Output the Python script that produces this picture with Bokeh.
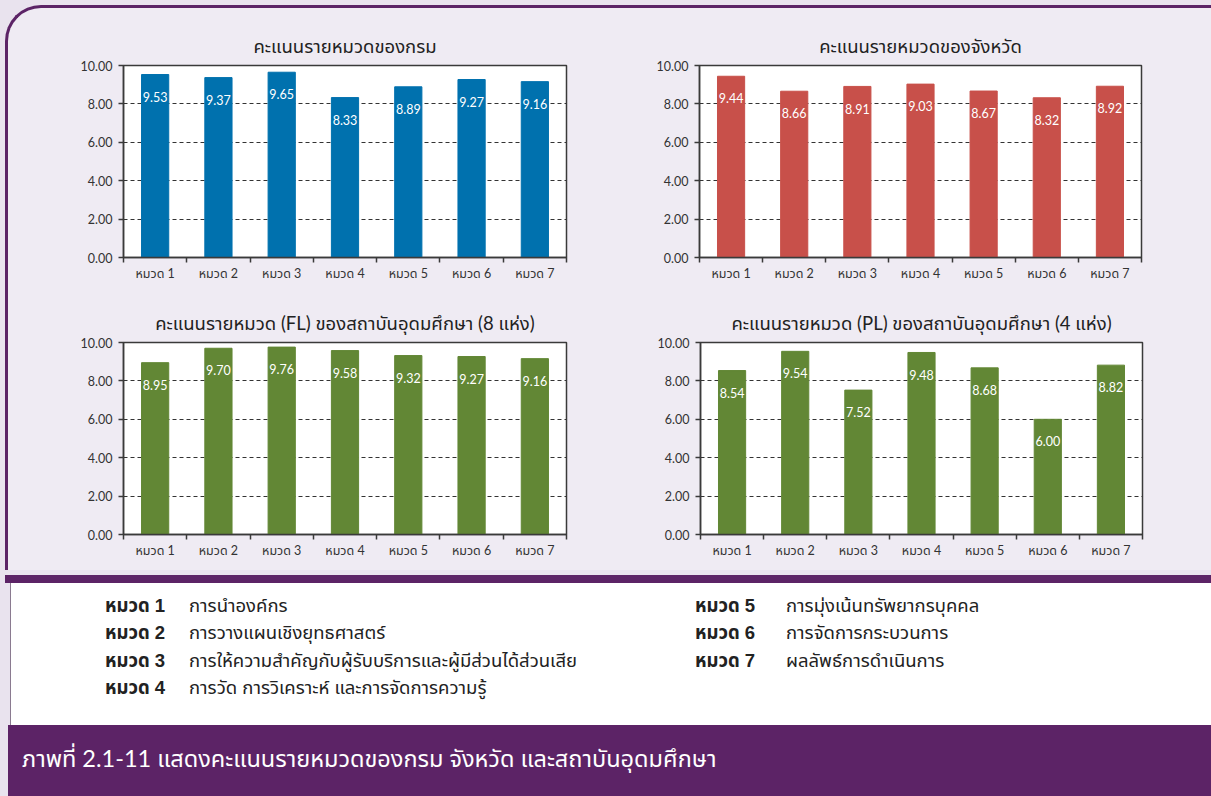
from bokeh.plotting import figure
from bokeh.models import Div, FixedTicker, NumeralTickFormatter, ColumnDataSource, Range1d
from bokeh.core.properties import value
from bokeh.layouts import column, row
from bokeh.embed import file_html
from bokeh.resources import INLINE

# ---------------- data ----------------
categories = ["หมวด 1", "หมวด 2", "หมวด 3", "หมวด 4", "หมวด 5", "หมวด 6", "หมวด 7"]
dept_scores = [9.53, 9.37, 9.65, 8.33, 8.89, 9.27, 9.16]
province_scores = [9.44, 8.66, 8.91, 9.03, 8.67, 8.32, 8.92]
fl_scores = [8.95, 9.70, 9.76, 9.58, 9.32, 9.27, 9.16]
pl_scores = [8.54, 9.54, 7.52, 9.48, 8.68, 6.00, 8.82]
chart_titles = [
    "คะแนนรายหมวดของกรม",
    "คะแนนรายหมวดของจังหวัด",
    "คะแนนรายหมวด (FL) ของสถาบันอุดมศึกษา (8 แห่ง)",
    "คะแนนรายหมวด (PL) ของสถาบันอุดมศึกษา (4 แห่ง)",
]
y_ticks = [0, 2, 4, 6, 8, 10]
grid_ticks = [2, 4, 6, 8]
legend_left = [
    ("หมวด 1", "การนำองค์กร"),
    ("หมวด 2", "การวางแผนเชิงยุทธศาสตร์"),
    ("หมวด 3", "การให้ความสำคัญกับผู้รับบริการและผู้มีส่วนได้ส่วนเสีย"),
    ("หมวด 4", "การวัด การวิเคราะห์ และการจัดการความรู้"),
]
legend_right = [
    ("หมวด 5", "การมุ่งเน้นทรัพยากรบุคคล"),
    ("หมวด 6", "การจัดการกระบวนการ"),
    ("หมวด 7", "ผลลัพธ์การดำเนินการ"),
]
caption = "ภาพที่ 2.1-11 แสดงคะแนนรายหมวดของกรม จังหวัด และสถาบันอุดมศึกษา"

BLUE = "#0071AE"
RED = "#C8504A"
GREEN = "#628735"
PURPLE = "#5C2366"
LAVENDER_IN = "#EFEBF3"
LAVENDER_OUT = "#E9E3EE"
AXIS = "#3A3A3A"
CHART_FONT = "Lato, 'Noto Sans Thai', 'Noto Sans', sans-serif"
LEGEND_FONT = "'Liberation Sans', 'Noto Sans Thai', 'DejaVu Sans', sans-serif"


def make_chart(title, values, color, width, height, bl, br, bt, bb):
    xs = list(range(1, len(categories) + 1))
    src = ColumnDataSource(dict(
        x=xs,
        top=values,
        label=[f"{v:.2f}" for v in values],
        ly=[v - 1.15 for v in values],
    ))
    p = figure(width=width, height=height, x_range=Range1d(0.5, len(categories) + 0.5),
               y_range=Range1d(0, 10), output_backend="svg", toolbar_location=None,
               min_border_left=bl, min_border_right=br, min_border_top=bt, min_border_bottom=bb)
    p.vbar(x="x", top="top", width=0.43, color=color, source=src)
    p.text(x="x", y="ly", text="label", source=src, text_align="center",
           text_baseline="middle", text_color="white", text_font_size="12.5px",
           text_font=value(CHART_FONT))

    p.title.text = title
    p.title.align = "center"
    p.title.text_font_size = "18.5px"
    p.title.text_font_style = "normal"
    p.title.text_color = "#222222"
    p.title.text_font = CHART_FONT
    p.title.standoff = 18

    p.background_fill_color = "white"
    p.border_fill_alpha = 0
    p.outline_line_color = AXIS
    p.outline_line_width = 1.5

    p.xgrid.visible = False
    p.ygrid.ticker = FixedTicker(ticks=grid_ticks)
    p.ygrid.grid_line_color = "#333333"
    p.ygrid.grid_line_dash = "4 3"
    p.ygrid.grid_line_width = 1

    xa = p.xaxis[0]
    xa.ticker = FixedTicker(ticks=xs, minor_ticks=[i + 0.5 for i in range(len(categories) + 1)])
    xa.major_label_overrides = {x: c for x, c in zip(xs, categories)}
    xa.major_tick_out = 0
    xa.major_tick_in = 0
    xa.minor_tick_out = 5
    xa.minor_tick_in = 0
    xa.minor_tick_line_color = AXIS
    xa.minor_tick_line_width = 1.5
    xa.axis_line_color = AXIS
    xa.axis_line_width = 1.5
    xa.major_label_text_font_size = "12.5px"
    xa.major_label_text_color = "#333333"
    xa.major_label_text_font = CHART_FONT
    xa.major_label_standoff = 3

    ya = p.yaxis[0]
    ya.ticker = FixedTicker(ticks=y_ticks)
    ya.formatter = NumeralTickFormatter(format="0.00")
    ya.major_tick_out = 5
    ya.major_tick_in = 0
    ya.minor_tick_out = 0
    ya.minor_tick_in = 0
    ya.major_tick_line_color = AXIS
    ya.major_tick_line_width = 1.5
    ya.axis_line_color = AXIS
    ya.axis_line_width = 1.5
    ya.major_label_text_font_size = "12.5px"
    ya.major_label_text_color = "#333333"
    ya.major_label_text_font = CHART_FONT
    ya.major_label_standoff = 6
    return p


f1 = make_chart(chart_titles[0], dept_scores, BLUE, 592, 281, 115, 34, 57, 32)
f2 = make_chart(chart_titles[1], province_scores, RED, 611, 281, 99, 70, 57, 32)
f3 = make_chart(chart_titles[2], fl_scores, GREEN, 592, 281, 115, 34, 53, 36)
f4 = make_chart(chart_titles[3], pl_scores, GREEN, 611, 281, 100, 69, 53, 36)

block = column(row(f1, f2), row(f3, f4), styles={
    "background-color": LAVENDER_IN,
    "border-top": f"3px solid {PURPLE}",
    "border-left": f"3px solid {PURPLE}",
    "border-top-left-radius": "36px",
    "margin-left": "5px",
    "margin-top": "5px",
})

# ---------- legend + footer as HTML ----------
parts = []
parts.append(f'<div style="position:relative;width:1211px;height:221px;font-family:{LEGEND_FONT};">')
parts.append(f'<div style="position:absolute;left:0;top:0;width:1211px;height:8px;background:{PURPLE};"></div>')
parts.append('<div style="position:absolute;left:5px;top:8px;width:1206px;height:142px;background:white;'
             'border-left:1px solid #8A7A90;box-sizing:border-box;"></div>')
line_y = [31, 58, 86, 113]
for (lab, desc), y in zip(legend_left, line_y):
    parts.append(f'<div style="position:absolute;left:100px;top:{y-12}px;height:24px;line-height:24px;'
                 f'font-size:18.5px;font-weight:bold;color:#222;white-space:nowrap;">{lab}</div>')
    parts.append(f'<div style="position:absolute;left:184px;top:{y-12}px;height:24px;line-height:24px;'
                 f'font-size:18.5px;color:#222;white-space:nowrap;">{desc}</div>')
for (lab, desc), y in zip(legend_right, line_y):
    parts.append(f'<div style="position:absolute;left:690px;top:{y-12}px;height:24px;line-height:24px;'
                 f'font-size:18.5px;font-weight:bold;color:#222;white-space:nowrap;">{lab}</div>')
    parts.append(f'<div style="position:absolute;left:781px;top:{y-12}px;height:24px;line-height:24px;'
                 f'font-size:18.5px;color:#222;white-space:nowrap;">{desc}</div>')
parts.append(f'<div style="position:absolute;left:3px;top:150px;width:1208px;height:71px;background:{PURPLE};"></div>')
parts.append(f'<div style="position:absolute;left:17px;top:167px;height:32px;line-height:32px;font-size:23.5px;'
             f'color:white;white-space:nowrap;font-family:{CHART_FONT};">{caption}</div>')
parts.append('</div>')
footer = Div(text="".join(parts), width=1211, height=221)

root = column(block, footer, styles={"background-color": LAVENDER_OUT})

open("out.html", "w").write(file_html(root, INLINE))
